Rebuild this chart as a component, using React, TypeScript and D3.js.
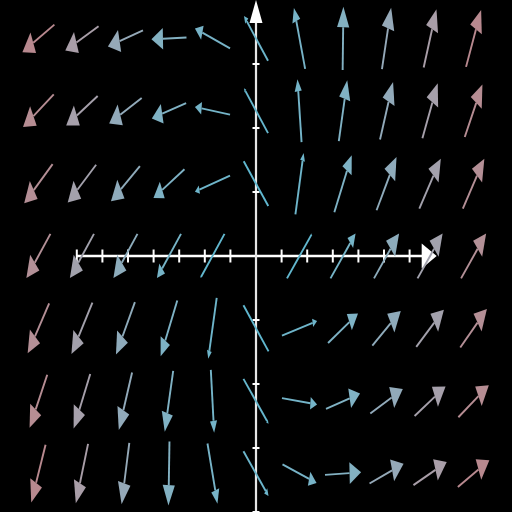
import { useEffect, useRef } from "react";
import * as d3 from "d3";

// grid of arrow centres (data units)
const X_GRID = [-8.5, -6.8, -5.1, -3.4, -1.7, 0, 1.7, 3.4, 5.1, 6.8, 8.5];
const Y_GRID = [3.4, 2.27, 1.13, 0, -1.13, -2.27, -3.4];

// arrow components, one row per Y_GRID value
const U = [
    [-1.25, -1.30, -1.37, -1.37, -1.37, -0.94, -0.44, 0.03, 0.36, 0.50, 0.59],
    [-1.20, -1.23, -1.27, -1.34, -1.37, -0.94, -0.16, 0.33, 0.51, 0.60, 0.69],
    [-1.11, -1.11, -1.13, -1.21, -1.37, -0.96, 0.32, 0.68, 0.78, 0.84, 0.84],
    [-0.94, -0.94, -0.94, -0.94, -0.94, 0, 0.98, 0.98, 0.98, 0.98, 0.98],
    [-0.84, -0.82, -0.74, -0.65, -0.33, 0.98, 1.37, 1.17, 1.11, 1.08, 1.04],
    [-0.69, -0.65, -0.52, -0.33, 0.13, 0.98, 1.37, 1.33, 1.27, 1.21, 1.19],
    [-0.56, -0.48, -0.30, -0.04, 0.39, 0.98, 1.33, 1.41, 1.33, 1.30, 1.23],
];
const V = [
    [-0.43, -0.38, -0.25, -0.03, 0.31, 0.70, 0.95, 0.99, 0.96, 0.91, 0.89],
    [-0.51, -0.46, -0.40, -0.24, 0.12, 0.70, 0.98, 0.95, 0.90, 0.86, 0.82],
    [-0.61, -0.59, -0.55, -0.45, -0.25, 0.70, 0.96, 0.89, 0.83, 0.78, 0.78],
    [-0.69, -0.69, -0.69, -0.69, -0.69, 0, 0.70, 0.70, 0.70, 0.70, 0.70],
    [-0.78, -0.80, -0.82, -0.87, -0.95, -0.72, 0.23, 0.46, 0.54, 0.58, 0.60],
    [-0.83, -0.85, -0.90, -0.95, -0.98, -0.70, -0.10, 0.24, 0.38, 0.46, 0.50],
    [-0.90, -0.93, -0.96, -1.00, -0.94, -0.70, -0.29, 0.04, 0.31, 0.36, 0.42],
];
// relative magnitude (colour + head size)
const MAG = [
    [1.0, 0.82, 0.64, 0.48, 0.34, 0.2, 0.34, 0.48, 0.64, 0.82, 1.0],
    [0.97, 0.79, 0.61, 0.45, 0.3, 0.13, 0.3, 0.45, 0.61, 0.79, 0.97],
    [0.95, 0.77, 0.59, 0.42, 0.22, 0.05, 0.22, 0.42, 0.59, 0.77, 0.95],
    [0.94, 0.76, 0.57, 0.33, 0.08, 0, 0.08, 0.33, 0.57, 0.76, 0.94],
    [0.95, 0.77, 0.59, 0.42, 0.22, 0.05, 0.22, 0.42, 0.59, 0.77, 0.95],
    [0.97, 0.79, 0.61, 0.45, 0.3, 0.13, 0.3, 0.45, 0.61, 0.79, 0.97],
    [1.0, 0.82, 0.64, 0.48, 0.34, 0.2, 0.34, 0.48, 0.64, 0.82, 1.0],
];

const X_TICKS = [-7, -6, -5, -4, -3, -2, -1, 1, 2, 3, 4, 5, 6];
const Y_TICKS = [-4, -3, -2, -1, 1, 2, 3];

const W = 512;
const H = 512;

export default function App() {
    const svgRef = useRef<SVGSVGElement>(null);

    useEffect(() => {
        if (!svgRef.current) return;
        const svg = d3.select(svgRef.current);
        svg.selectAll("*").remove();

        const xScale = d3.scaleLinear().domain([-10, 10]).range([0, W]);
        const yScale = d3.scaleLinear().domain([-4, 4]).range([H, 0]);

        const color = d3.scaleLinear<string>()
            .domain([0, 0.45, 0.64, 0.82, 1])
            .range(["#5cb8d0", "#80b2c4", "#95a9b8", "#a99ea8", "#b8898f"])
            .interpolate(d3.interpolateRgb);
        const headScale = d3.scaleLinear().domain([0.05, 0.5]).range([0, 1]).clamp(true);

        svg.append("rect").attr("width", W).attr("height", H).attr("fill", "#000");

        // axes
        const axes = svg.append("g");
        const x0 = xScale(0);
        const y0 = yScale(0);
        axes.append("line")
            .attr("x1", xScale(-7)).attr("x2", xScale(7) - 10)
            .attr("y1", y0).attr("y2", y0)
            .attr("stroke", "#fff").attr("stroke-width", 2.5);
        axes.append("path")
            .attr("d", `M${xScale(7) + 1.5},${y0} L${xScale(7) - 13.5},${y0 - 12.5} L${xScale(7) - 13.5},${y0 + 12.5} Z`)
            .attr("fill", "#fff");
        axes.selectAll(".xt").data(X_TICKS).enter().append("line")
            .attr("x1", d => xScale(d)).attr("x2", d => xScale(d))
            .attr("y1", y0 - 6.5).attr("y2", y0 + 6.5)
            .attr("stroke", "#fff").attr("stroke-width", 2);

        axes.append("line")
            .attr("x1", x0).attr("x2", x0)
            .attr("y1", yScale(-4)).attr("y2", yScale(4) + 15)
            .attr("stroke", "#e6e6e6").attr("stroke-width", 2.2);
        axes.append("path")
            .attr("d", `M${x0},${yScale(4)} L${x0 - 6.5},${yScale(4) + 23} L${x0 + 6.5},${yScale(4) + 23} Z`)
            .attr("fill", "#fff");
        axes.selectAll(".yt").data(Y_TICKS).enter().append("line")
            .attr("x1", x0 - 3.5).attr("x2", x0 + 3.5)
            .attr("y1", d => yScale(d)).attr("y2", d => yScale(d))
            .attr("stroke", "#fff").attr("stroke-width", 2);

        // arrows
        const SX = 35.5, SY = 63; // arrow-space px per unit
        const HEAD_L = 0.34, HEAD_W = 0.18;
        const arrows = svg.append("g");

        Y_GRID.forEach((gy, j) => {
            X_GRID.forEach((gx, i) => {
                const u = U[j][i], v = V[j][i];
                if (u === 0 && v === 0) return;
                const m = MAG[j][i];
                const c = color(m);
                const xa = xScale(gx - u / 2), ya = yScale(gy - v / 2);
                const xb = xScale(gx + u / 2), yb = yScale(gy + v / 2);
                const ax = (xb - xa) / SX, ay = (yb - ya) / SY;
                const len = Math.hypot(ax, ay);
                const ex = ax / len, ey = ay / len;
                const px = -ey, py = ex;
                const s = headScale(m);
                const L = HEAD_L * s, Wd = HEAD_W * s;
                const bx = xb - L * ex * SX, by = yb - L * ey * SY;

                arrows.append("line")
                    .attr("x1", xa).attr("y1", ya)
                    .attr("x2", s > 0 ? bx : xb).attr("y2", s > 0 ? by : yb)
                    .attr("stroke", c).attr("stroke-width", 1.9);
                if (s > 0) {
                    const c1x = bx + Wd * px * SX, c1y = by + Wd * py * SY;
                    const c2x = bx - Wd * px * SX, c2y = by - Wd * py * SY;
                    arrows.append("path")
                        .attr("d", `M${xb},${yb} L${c1x},${c1y} L${c2x},${c2y} Z`)
                        .attr("fill", c);
                }
            });
        });
    }, []);

    return (
        <svg
            ref={svgRef}
            width={W}
            height={H}
            style={{ position: "absolute", left: 0, top: 0, display: "block" }}
        />
    );
}
